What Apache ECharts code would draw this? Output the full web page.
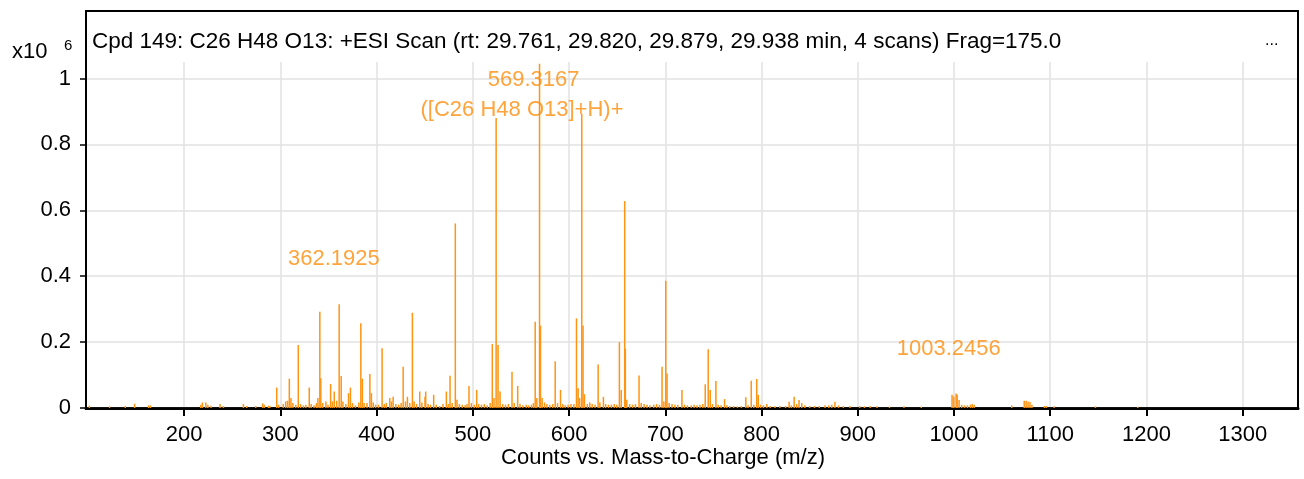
<!DOCTYPE html>
<html>
<head>
<meta charset="utf-8">
<script src="https://cdn.jsdelivr.net/npm/echarts@6/dist/echarts.min.js"></script>
<style>
html,body{margin:0;padding:0;background:#fff;}
#chart{width:1304px;height:479px;}
</style>
</head>
<body>
<div id="chart"></div>
<script>
// m/z positions of the peaks
var mz = [
  101.5,122.5,138.8,148.5,163,165,
  217.3,219,222.5,224.6,228,237.3,240.8,261.6,265,274.4,281.6,283.3,287.6,289,296.2,298.2,
  303,305.5,307.5,309.3,311,313,316,318.6,321,324,326.5,330,332,335,337.5,339,341,342,344,347.3,349.5,
  352.2,354,356,358.5,361.1,363.2,365,368,370.8,372.8,375,378,381.5,383.6,385.2,387,390,393,394.6,396.5,399,
  402,405.7,408,410,413.7,415.5,417.2,420,423,425.5,427.6,430,432,434.5,437.2,439,441.5,444.8,447,450.3,451,
  453.5,456,459.3,462,465.5,469,472.5,474.5,476.3,478.5,481.8,483.5,486,489,492,494,496,498.5,
  501.5,504,506,509,512,515,518,520.2,522,524.2,526.2,528.3,531,534,537,540.7,543,546.6,549,552,555.5,558,
  561,563,564.8,566.5,569.3,570.3,572,574.5,577,580,583,585.6,588,591.1,593.5,596,599,
  602,605,607.7,609.4,611,613.2,614.5,616,619,621.5,624,627,630.2,632,635.7,638,641,644,647,649.5,652.3,654.2,
  657.8,658.5,660,663,666,669,672.7,675,678,681,684,688,691,694,696.6,698.5,700.5,701.8,704,707,
  710,713,717.3,720,723,727,730,733,736,739,741.5,744.6,746.7,749,752.6,755,758,761.6,764,767,771,775,779,
  783.7,786,789.3,792,795,796.6,799,
  802,805.5,809,814,819,825,828.7,831,833.9,836.5,839,841.8,845,850,855,860,866,870,873,876.3,880,885,892,
  902,907,913,920,933,948,966,
  998,999.8,1002.2,1003.3,1005.3,1008,1011,1014,1017,1019,1021,1060,1073,1075,1077,1079,1081,1094,1096,
  1104,1147,1191
];
// counts (x10^6)
var counts = [
  0.007,0.005,0.006,0.013,0.008,0.008,
  0.01,0.017,0.017,0.01,0.007,0.012,0.006,0.012,0.006,0.006,0.014,0.01,0.007,0.007,0.062,0.01,
  0.012,0.02,0.022,0.089,0.03,0.015,0.01,0.191,0.012,0.008,0.01,0.062,0.012,0.008,0.015,0.03,0.292,0.09,0.015,0.02,0.01,
  0.073,0.02,0.05,0.022,0.315,0.097,0.02,0.012,0.045,0.062,0.015,0.008,0.017,0.257,0.089,0.015,0.015,0.103,0.045,0.017,0.01,
  0.01,0.181,0.012,0.015,0.03,0.02,0.034,0.012,0.01,0.015,0.125,0.02,0.034,0.015,0.289,0.02,0.012,0.05,0.017,0.034,0.05,
  0.012,0.01,0.04,0.01,0.006,0.012,0.05,0.012,0.098,0.015,0.56,0.025,0.012,0.01,0.008,0.012,0.067,0.015,
  0.01,0.055,0.012,0.01,0.012,0.008,0.015,0.194,0.03,0.88,0.191,0.05,0.012,0.01,0.012,0.11,0.015,0.067,0.012,0.008,0.01,0.008,
  0.01,0.015,0.262,0.03,1.045,0.25,0.03,0.017,0.012,0.01,0.012,0.142,0.015,0.055,0.012,0.008,0.01,
  0.012,0.012,0.272,0.06,0.03,0.893,0.25,0.042,0.012,0.017,0.012,0.01,0.132,0.017,0.034,0.012,0.01,0.01,0.012,0.01,0.2,0.055,
  0.628,0.18,0.025,0.012,0.01,0.012,0.099,0.015,0.012,0.01,0.008,0.01,0.012,0.01,0.125,0.02,0.386,0.105,0.015,0.012,
  0.01,0.01,0.055,0.01,0.008,0.008,0.01,0.008,0.01,0.012,0.072,0.178,0.055,0.012,0.082,0.01,0.008,0.027,0.008,0.006,0.006,0.005,0.006,
  0.033,0.008,0.083,0.01,0.088,0.04,0.01,
  0.008,0.012,0.006,0.005,0.006,0.006,0.019,0.008,0.034,0.012,0.024,0.015,0.008,0.006,0.006,0.006,0.008,0.008,0.01,0.019,0.008,0.006,0.006,
  0.006,0.005,0.006,0.005,0.004,0.005,0.004,
  0.04,0.035,0.044,0.04,0.024,0.01,0.008,0.008,0.01,0.012,0.01,0.008,0.022,0.022,0.02,0.018,0.01,0.006,0.006,
  0.005,0.005,0.004
];
var xTicks = [200,300,400,500,600,700,800,900,1000,1100,1200,1300];
var yTicks = [0,0.2,0.4,0.6,0.8,1];

// peak annotations
var annoX = [563.1, 551.1, 355.6, 994.6];
var annoY = [0.997, 0.906, 0.4515, 0.18];
var annoText = ['569.3167', '([C26 H48 O13]+H)+', '362.1925', '1003.2456'];

var orange = '#ff8c0a';
var fontFam = '"Liberation Sans", Arial, Helvetica, sans-serif';

var peaks = [];
for (var i = 0; i < mz.length; i++) {
  peaks.push([mz[i], counts[i]]);
}
var annos = [];
for (var j = 0; j < annoX.length; j++) {
  annos.push({value: [annoX[j], annoY[j]], name: annoText[j]});
}

var myChart = echarts.init(document.getElementById('chart'));
var option = {
  animation: false,
  backgroundColor: '#fff',
  textStyle: {fontFamily: fontFam},
  grid: {left: 86, right: 6, top: 62, bottom: 71},
  xAxis: {
    type: 'value',
    min: 98,
    max: 1357.5,
    axisLine: {show: true, lineStyle: {color: '#111', width: 3}},
    axisTick: {show: true, length: 8, customValues: xTicks, lineStyle: {color: '#000', width: 2}},
    axisLabel: {
      customValues: xTicks, color: '#000', fontSize: 22, margin: 16, fontFamily: fontFam,
      formatter: function (v) { return String(v); }
    },
    splitLine: {show: true, lineStyle: {color: '#e2e2e2', width: 1.5}}
  },
  yAxis: {
    type: 'value',
    min: 0,
    max: 1.05,
    axisLine: {show: true, lineStyle: {color: '#000', width: 2}},
    axisTick: {show: true, length: 6, customValues: yTicks, lineStyle: {color: '#000', width: 1.5}},
    axisLabel: {customValues: yTicks, color: '#000', fontSize: 22, margin: 15, fontFamily: fontFam},
    splitLine: {show: true, lineStyle: {color: '#e2e2e2', width: 1.5}}
  },
  series: [{
    name: 'spectrum',
    type: 'bar',
    data: peaks,
    barWidth: 1.5,
    itemStyle: {color: '#ff9412', opacity: 1}
  }, {
    name: 'labels',
    type: 'scatter',
    data: annos,
    symbolSize: 0,
    silent: true,
    label: {
      show: true,
      position: 'inside',
      formatter: function (p) { return p.name; },
      color: orange,
      fontSize: 22,
      fontFamily: fontFam
    }
  }],
  graphic: [
    {type: 'rect', shape: {x: 86, y: 11, width: 1212, height: 398},
     style: {fill: 'none', stroke: '#000', lineWidth: 2}, silent: true, z: 100},
    {type: 'text', left: 92, top: 30,
     style: {text: 'Cpd 149: C26 H48 O13: +ESI Scan (rt: 29.761, 29.820, 29.879, 29.938 min, 4 scans) Frag=175.0',
             fill: '#000', font: '22.5px ' + fontFam}},
    {type: 'text', left: 1265, top: 33,
     style: {text: '...', fill: '#000', font: '16px ' + fontFam}},
    {type: 'text', left: 12, top: 41,
     style: {text: 'x10', fill: '#000', font: '22px ' + fontFam}},
    {type: 'text', left: 64, top: 38,
     style: {text: '6', fill: '#000', font: '15px ' + fontFam}},
    {type: 'text', x: 663, y: 458,
     style: {text: 'Counts vs. Mass-to-Charge (m/z)', fill: '#000', font: '22px ' + fontFam,
             align: 'center', verticalAlign: 'middle'}}
  ]
};
myChart.setOption(option);
</script>
</body>
</html>
